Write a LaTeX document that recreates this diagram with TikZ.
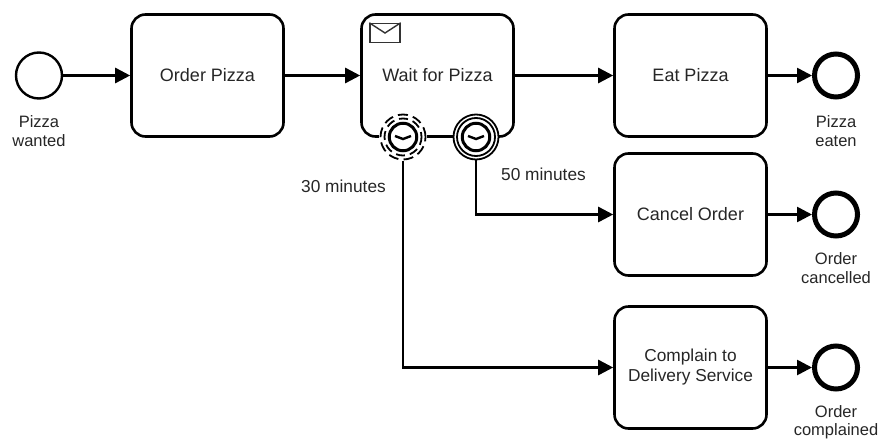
\documentclass[tikz,border=0pt]{standalone}
\usepackage{fontspec}
\setmainfont{Liberation Sans}
\usetikzlibrary{arrows.meta,calc}
\newcommand{\tasklbl}{\fontsize{18}{20}\selectfont}
\newcommand{\evlbl}{\fontsize{16.5}{18.5}\selectfont}
\newcommand{\timelbl}{\fontsize{17.3}{20}\selectfont}
\tikzset{
  task/.style={draw=black,line width=2.6pt,rounded corners=14pt,minimum width=152pt,minimum height=122pt,inner sep=0pt,align=center,font=\tasklbl,text=black!85},
  startev/.style={draw=black,circle,line width=2.4pt,minimum size=46pt,inner sep=0pt},
  endev/.style={draw=black,circle,line width=5pt,minimum size=43pt,inner sep=0pt},
  flow/.style={draw=black,line width=2.6pt,-{Triangle[length=15pt,width=15pt]}},
  lbl/.style={font=\evlbl,align=center,inner sep=0pt,text=black!85},
  timelabel/.style={font=\timelbl,inner sep=0pt,text=black!85,anchor=west},
  boundring/.style={draw=black,circle,line width=1.8pt,fill=white,minimum size=45pt,inner sep=0pt},
  boundinner/.style={draw=black,circle,line width=1.8pt,minimum size=38pt,inner sep=0pt},
  clockface/.style={draw=black,circle,line width=3pt,minimum size=27.5pt,inner sep=0pt},
  hands/.style={draw=black,line width=2.4pt}
}
\begin{document}
\begin{tikzpicture}[x=1pt,y=-1pt]
\useasboundingbox (0,0) rectangle (882,439);
\node[startev] (s) at (39,75.5) {};
\node[lbl] (sl) at (39,131) {Pizza\\wanted};
\node[task] (order) at (207.5,75.5) {Order Pizza};
\node[task] (wait) at (437.5,75.5) {Wait for Pizza};
\node[task] (eat) at (690.5,75.5) {Eat Pizza};
\node[task] (cancel) at (690.5,214.5) {Cancel Order};
\node[task,font=\timelbl] (complain) at (690.5,367.5) {Complain to\\Delivery Service};
\node[endev] (e1) at (836,75.5) {};
\node[endev] (e2) at (836,214.5) {};
\node[endev] (e3) at (836,367.5) {};
\node[lbl] (e1l) at (836,131) {Pizza\\eaten};
\node[lbl] (e2l) at (836,268) {Order\\cancelled};
\node[lbl] (e3l) at (836,422) {Order\\complained};
% envelope
\node[draw=black!80,line width=1.4pt,minimum width=30pt,minimum height=19pt,inner sep=0pt] (env) at (385,33) {};
\draw[black!80,line width=1.4pt] (env.north west) -- (env.center) -- (env.north east);
% boundary events
\node[draw=none,fill=white,circle,minimum size=48pt,inner sep=0pt] (b1) at (403,137) {};
\draw[black,line width=1.8pt,dash pattern=on 10pt off 5.2pt] (b1.center) circle (22.5pt);
\draw[black,line width=1.8pt,dash pattern=on 9pt off 5pt,dash phase=4pt] (b1.center) circle (18.5pt);
\node[clockface] at (b1.center) {};
\draw[hands] ($(b1.center)+(-8,-1)$) -- ($(b1.center)+(0,2)$) -- ($(b1.center)+(8,-1)$);
\node[boundring] (b2) at (476,137) {};
\node[boundinner] at (b2.center) {};
\node[clockface] at (b2.center) {};
\draw[hands] ($(b2.center)+(-8,-1)$) -- ($(b2.center)+(0,2)$) -- ($(b2.center)+(8,-1)$);
\node[timelabel] (t30) at (301,186) {30 minutes};
\node[timelabel] (t50) at (501,174) {50 minutes};
% flows
\draw[flow] (s) -- (order);
\draw[flow] (order) -- (wait);
\draw[flow] (wait) -- (eat);
\draw[flow] (eat) -- (e1);
\draw[flow] (cancel) -- (e2);
\draw[flow] (complain) -- (e3);
\draw[flow] (b2) |- (cancel);
\draw[flow] (b1) |- (complain);
\end{tikzpicture}
\end{document}
